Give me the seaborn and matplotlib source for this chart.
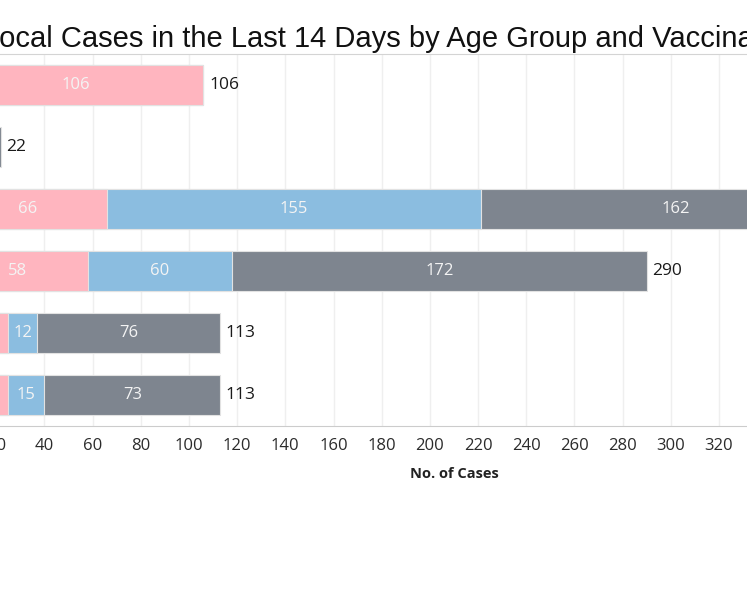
import matplotlib
matplotlib.use("Agg")
import matplotlib.pyplot as plt
import seaborn as sns
import numpy as np

# data (age groups top -> bottom)
ages = ["0-11 years", "12-19 years", "20-39 years", "40-59 years", "60-69 years", "70 years & above"]
unvacc = [106, 2, 66, 58, 25, 25]
partial = [0, 1, 155, 60, 12, 15]
full = [0, 19, 162, 172, 76, 73]
ticks = list(range(0, 421, 20))

pink = "#ffb5bf"
blue = "#8bbde0"
grey = "#7e858f"

sns.set_style("white")
plt.rcParams['font.family'] = ['Open Sans', 'DejaVu Sans']

W, H = 747, 598
fig = plt.figure(figsize=(W / 100, H / 100), dpi=100)
# axes runs off the left edge of the picture (the chart is a crop)
ax = fig.add_axes([-52 / W, 1 - 426 / H, 1012 / W, 372 / H])

u = np.array(unvacc)
p = np.array(partial)
f = np.array(full)
tot = u + p + f

# stacked bars drawn back to front
sns.barplot(x=tot, y=ages, color=grey, orient="h", width=0.65,
            edgecolor="#e2e2e2", linewidth=0.8, saturation=1, ax=ax, zorder=2)
sns.barplot(x=u + p, y=ages, color=blue, orient="h", width=0.65,
            edgecolor="#e2e2e2", linewidth=0.8, saturation=1, ax=ax, zorder=3)
sns.barplot(x=u, y=ages, color=pink, orient="h", width=0.65,
            edgecolor="#e2e2e2", linewidth=0.8, saturation=1, ax=ax, zorder=4)

for i in range(len(ages)):
    start = 0
    for v in (unvacc[i], partial[i], full[i]):
        if v > 0:
            ax.text(start + v / 2, i, str(v), ha="center", va="center",
                    color="#f4f4f4", fontsize=12, zorder=6)
        start += v
    ax.annotate(str(tot[i]), (tot[i], i), xytext=(4, 0), textcoords="offset points",
                ha="left", va="center", fontsize=12.5, color="#1a1a1a", zorder=6,
                annotation_clip=False)

ax.set_xlim(0, 420)
ax.set_ylim(5.5, -0.5)
ax.set_xticks(ticks)
ax.set_xticklabels([str(t) for t in ticks], fontsize=12, color="#2b2b2b")
ax.tick_params(axis="x", length=4, width=1, color="#777777", pad=4.5)
ax.tick_params(axis="y", length=0, labelsize=11)
ax.grid(axis="x", color="#efefef", linewidth=1, zorder=0)
ax.set_axisbelow(True)
for s in ["left", "right"]:
    ax.spines[s].set_visible(False)
ax.spines["bottom"].set_color("#cccccc")
ax.spines["top"].set_color("#d4d4d4")
ax.set_ylabel("")
ax.set_xlabel("No. of Cases", fontsize=10.5, fontweight="bold", color="#222222", va="center")
ax.xaxis.set_label_coords(0.5, -48 / 372)

fig.text(-17 / W, 1 - 47 / H, "Local Cases in the Last 14 Days by Age Group and Vaccination Status",
         ha="left", va="baseline", fontsize=21, family="Liberation Sans", color="#111111")

fig.savefig("out.png", dpi=100)
